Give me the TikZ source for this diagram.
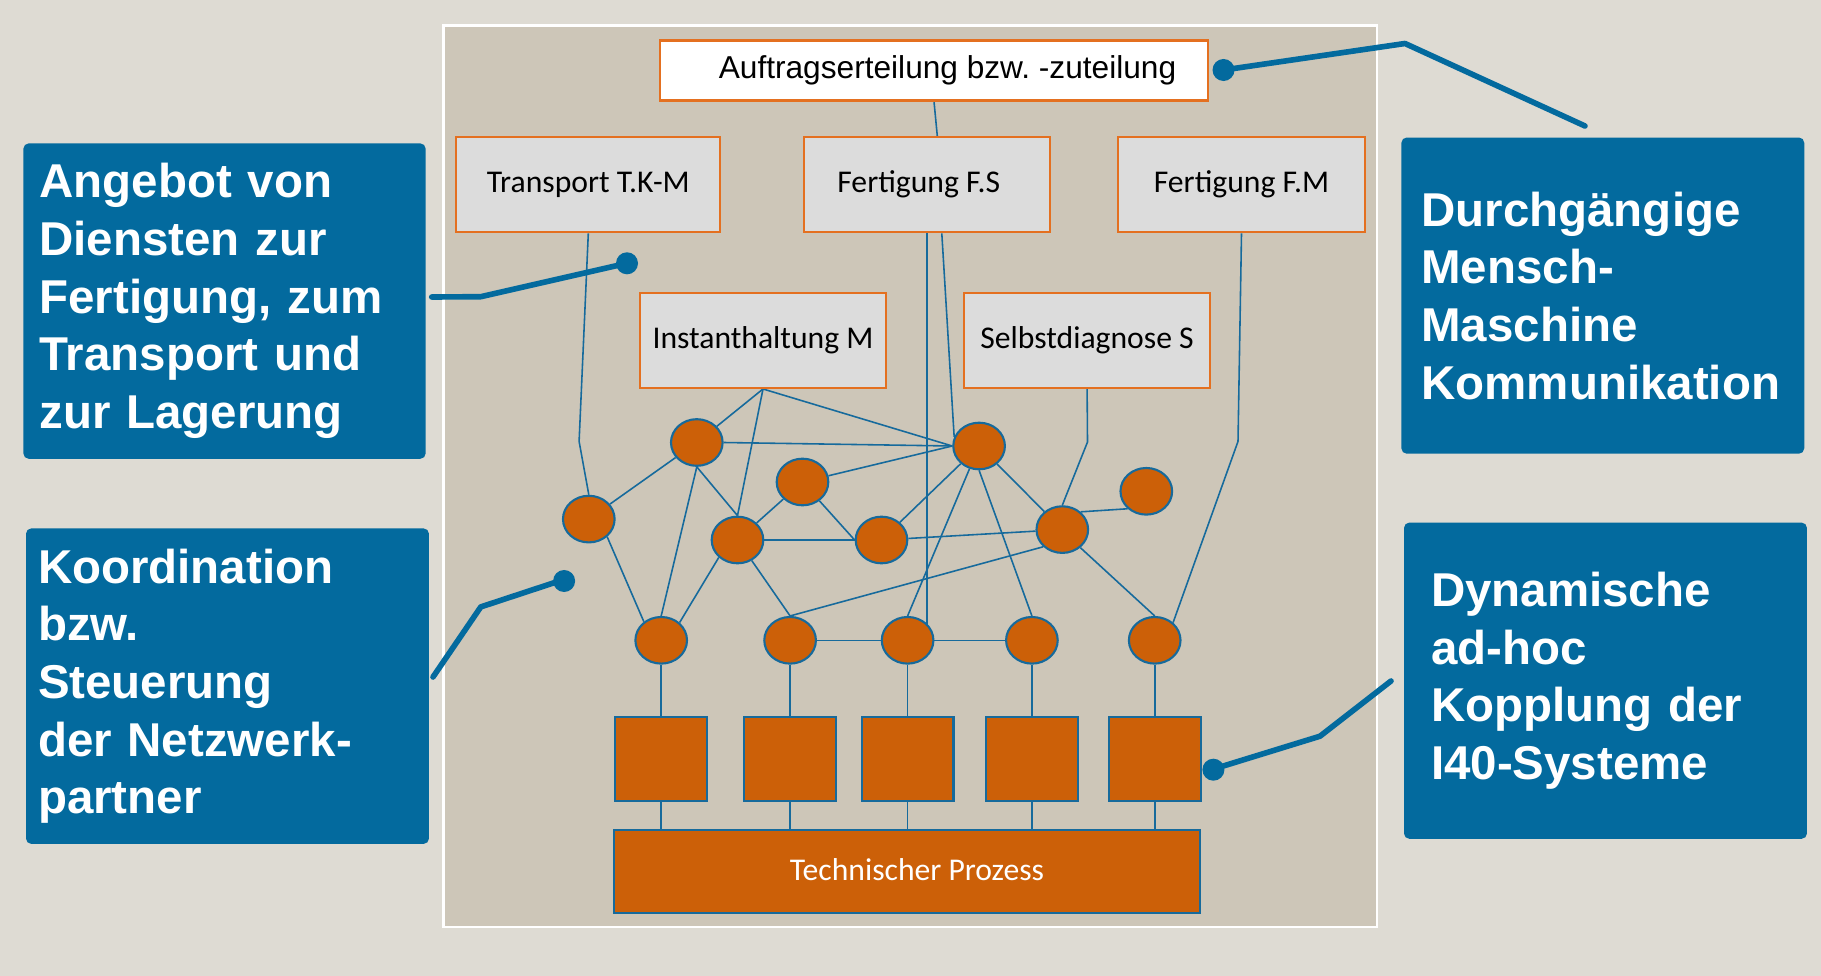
\documentclass[tikz,border=0pt]{standalone}
\usepackage{fontspec}
\setmainfont{Liberation Sans}
\newfontfamily\calfont{Carlito}
\usetikzlibrary{shapes.geometric,calc}
\definecolor{bgc}{RGB}{222,219,211}
\definecolor{panel}{RGB}{205,198,184}
\definecolor{boxg}{RGB}{220,220,220}
\definecolor{orng}{RGB}{204,96,8}
\definecolor{orbd}{RGB}{228,112,32}
\definecolor{lnb}{RGB}{22,106,156}
\definecolor{cob}{RGB}{3,106,158}
\pgfdeclarelayer{bgl}\pgfdeclarelayer{edg}\pgfsetlayers{bgl,edg,main}
\frenchspacing
\begin{document}
\begin{tikzpicture}[x=0.01cm,y=-0.01cm,
 svc/.style={draw=orbd,fill=boxg,line width=0.6pt,minimum width=2.462cm,minimum height=0.952cm,inner sep=0pt,font=\calfont\fontsize{9pt}{11pt}\selectfont},
 agent/.style={ellipse,draw=lnb,fill=orng,line width=0.6pt,minimum width=0.516cm,minimum height=0.466cm,inner sep=0pt},
 unit/.style={draw=lnb,fill=orng,line width=0.6pt,minimum width=0.918cm,minimum height=0.836cm,inner sep=0pt},
 link/.style={draw=lnb,line width=0.45pt},
 callout/.style={fill=cob,rounded corners=1.5pt,text=white,align=left,anchor=north west,inner ysep=0pt,font=\bfseries\fontsize{13.5pt}{16.4pt}\selectfont},
 lead/.style={draw=cob,line width=1.6pt,line cap=round,line join=round},
 leaddot/.style={circle,fill=cob,minimum size=0.22cm,inner sep=0pt}
]
\useasboundingbox (0,0) rectangle (1821,976);
\begin{pgfonlayer}{bgl}
\fill[bgc] (0,0) rectangle (1821,976);
\draw[white,fill=panel,line width=0.7pt] (443.6,25.5) rectangle (1377,927);
\end{pgfonlayer}

% top order box
\node[draw=orbd,fill=white,line width=0.6pt,minimum width=5.47cm,minimum height=0.6cm,inner sep=0pt,font=\fontsize{9pt}{11pt}\selectfont] (au) at (934,70.5) {\hspace*{0.27cm}\raisebox{-0.025cm}{Auftragserteilung bzw. -zuteilung}};

% service boxes
\node[svc,minimum width=2.637cm] (tr) at (588.3,184.7) {Transport T.K-M};
\node[svc] (fs) at (926.8,184.7) {Fertigung F.S\hspace*{0.16cm}};
\node[svc] (fm) at (1241.5,184.7) {Fertigung F.M};
\node[svc] (im) at (763,340.3) {\raisebox{0.05cm}{Instanthaltung M}};
\node[svc] (sd) at (1087.1,340.3) {Selbstdiagnose S};

% agents
\node[agent] (c1) at (696.8,442.5) {};
\node[agent] (c2) at (588.8,519.1) {};
\node[agent] (c3) at (802.5,482) {};
\node[agent] (c4) at (737.5,540) {};
\node[agent] (c5) at (881.5,540) {};
\node[agent] (c6) at (979.1,446) {};
\node[agent] (c7) at (1062.3,529.6) {};
\node[agent] (c8) at (1146.3,491.3) {};
\node[agent] (b1) at (661.2,640.3) {};
\node[agent] (b2) at (790.1,640.3) {};
\node[agent] (b3) at (907.6,640.3) {};
\node[agent] (b4) at (1031.9,640.3) {};
\node[agent] (b5) at (1154.7,640.3) {};

% units
\node[unit] (s1) at (661.2,759) {};
\node[unit] (s2) at (790.1,759) {};
\node[unit] (s3) at (907.6,759) {};
\node[unit] (s4) at (1031.9,759) {};
\node[unit] (s5) at (1154.7,759) {};
\node[draw=lnb,fill=orng,line width=0.6pt,minimum width=5.863cm,minimum height=0.831cm,inner sep=0pt,text=white,font=\calfont\fontsize{9pt}{11pt}\selectfont] (tp) at (907,871.3) {\hspace*{0.2cm}\raisebox{0.03cm}{Technischer Prozess}};

% bend points
\coordinate (kT) at (579.1,441.4);
\coordinate (kS) at (1087.5,442);
\coordinate (kM) at (1238,441.4);

\begin{pgfonlayer}{edg}
\draw[link] (au.south) -- ($(fs.north)+(10.5,0)$);
\draw[link] (tr.south) -- (kT) -- (c2.north);
\draw[link] (sd.south) -- (kS) -- (c7.north);
\draw[link] (fm.south) -- (kM) -- (b5.44);
\draw[link] (fs.south) -- (fs.south |- b3);
\draw[link] ($(fs.south)+(15,0)$) -- (c6.160);
\draw[link] (im.south) -- (c1);
\draw[link] (im.south) -- (c4.north);
\draw[link] (im.south) -- (c6.west);
\draw[link] (c1.east) -- (c6.west);
\draw[link] (c1) -- (c2);
\draw[link] (c1.south) -- (b1.north);
\draw[link] (c1.south) -- (c4.north);
\draw[link] (c3) -- (c6.west);
\draw[link] (c3) -- (c4);
\draw[link] (c3) -- (c5.west);
\draw[link] (c4) -- (c5);
\draw[link] (c4.223) -- (b1.44);
\draw[link] (c4) -- (b2.north);
\draw[link] (c2.316) -- (b1.133);
\draw[link] (c5) -- (c6);
\draw[link] (c5) -- (c7);
\draw[link] (c6) -- (b3.north);
\draw[link] (c6) -- (c7);
\draw[link] (c6.south) -- (b4.north);
\draw[link] (c7.44) -- (c8.223);
\draw[link] (c7.222) -- (b2.north);
\draw[link] (c7.315) -- (b5.north);
\draw[link] (b2) -- (b3);
\draw[link] (b3) -- (b4);
\foreach \i in {1,...,5}{
  \draw[link] (b\i) -- (s\i);
  \draw[link] (s\i) -- (s\i |- tp);
}
\end{pgfonlayer}

% callout boxes
\node[callout,minimum width=4.02cm,minimum height=3.152cm,inner xsep=0.16cm,text width=3.7cm] (ca) at (22.7,142.7) {Angebot von\\Diensten zur\\Fertigung, zum\\Transport und\\zur Lagerung};
\node[callout,minimum width=4.027cm,minimum height=3.153cm,inner xsep=0.12cm,text width=3.787cm] (cc) at (25.3,527.7) {Koordination\\bzw.\\Steuerung\\der Netzwerk-\\partner};
\node[callout,minimum width=4.026cm,minimum height=3.16cm,inner xsep=0.2cm,text width=3.626cm] (cb) at (1400.7,136.8) {Durchgängige\\Mensch-\\Maschine\\Kommunikation};
\node[callout,minimum width=4.027cm,minimum height=3.16cm,inner xsep=0.27cm,text width=3.487cm] (cd) at (1403.3,521.9) {Dynamische\\ad-hoc\\Kopplung der\\I40-Systeme};

% leader lines
\node[leaddot] (dB) at (1223.5,70) {};
\node[leaddot] (dA) at (627,263.3) {};
\node[leaddot] (dC) at (564.1,581) {};
\node[leaddot] (dD) at (1213.4,769.7) {};
\coordinate (eB) at (1585,126);
\coordinate (eA) at (431.7,297);
\coordinate (eC) at (433,677);
\coordinate (eD) at (1391,681);
\draw[lead] (dB.center) -- (1405,43.5) -- (eB);
\draw[lead] (eA) -- (480.8,296.7) -- (619.9,264.9) -- (dA.center);
\draw[lead] (eC) -- (480.8,606.9) -- (553.9,582.8) -- (dC.center);
\draw[lead] (eD) -- (1320,736.2) -- (1219.4,767.2) -- (dD.center);
\end{tikzpicture}
\end{document}
